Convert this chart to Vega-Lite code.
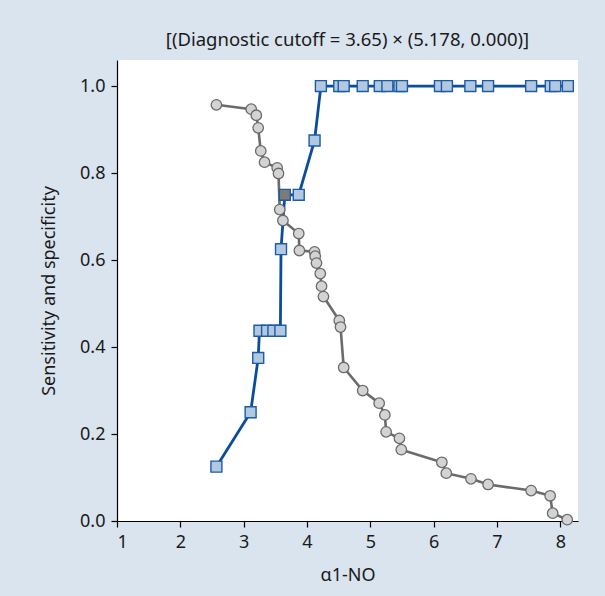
{
  "$schema": "https://vega.github.io/schema/vega-lite/v6.json",
  "width": 461,
  "height": 461,
  "autosize": {"type": "none"},
  "padding": {"left": 117, "top": 60, "right": 27, "bottom": 75},
  "background": "#dae4ee",
  "title": {
    "text": "[(Diagnostic cutoff = 3.65) × (5.178, 0.000)]",
    "font": "Noto Sans",
    "fontSize": 18.5,
    "fontWeight": "normal",
    "color": "#1a1a1a",
    "offset": 11,
    "anchor": "middle"
  },
  "config": {
    "view": {"stroke": null, "fill": "white"},
    "axis": {
      "labelFont": "Noto Sans",
      "titleFont": "Noto Sans",
      "labelFontSize": 18,
      "titleFontSize": 18,
      "labelColor": "#1a1a1a",
      "titleColor": "#1a1a1a",
      "titleFontWeight": "normal",
      "domainColor": "#000",
      "tickColor": "#000",
      "domainWidth": 1.2,
      "tickWidth": 1.2,
      "tickSize": 6,
      "grid": false
    }
  },
  "datasets": {
    "spec": [
      {"x": 2.57, "y": 0.125, "hl": 0},
      {"x": 3.11, "y": 0.25, "hl": 0},
      {"x": 3.23, "y": 0.375, "hl": 0},
      {"x": 3.25, "y": 0.4375, "hl": 0},
      {"x": 3.37, "y": 0.4375, "hl": 0},
      {"x": 3.47, "y": 0.4375, "hl": 0},
      {"x": 3.58, "y": 0.4375, "hl": 0},
      {"x": 3.59, "y": 0.625, "hl": 0},
      {"x": 3.65, "y": 0.75, "hl": 1},
      {"x": 3.87, "y": 0.75, "hl": 0},
      {"x": 4.12, "y": 0.875, "hl": 0},
      {"x": 4.22, "y": 1, "hl": 0},
      {"x": 4.51, "y": 1, "hl": 0},
      {"x": 4.58, "y": 1, "hl": 0},
      {"x": 4.88, "y": 1, "hl": 0},
      {"x": 5.15, "y": 1, "hl": 0},
      {"x": 5.27, "y": 1, "hl": 0},
      {"x": 5.46, "y": 1, "hl": 0},
      {"x": 5.5, "y": 1, "hl": 0},
      {"x": 6.1, "y": 1, "hl": 0},
      {"x": 6.21, "y": 1, "hl": 0},
      {"x": 6.58, "y": 1, "hl": 0},
      {"x": 6.86, "y": 1, "hl": 0},
      {"x": 7.54, "y": 1, "hl": 0},
      {"x": 7.85, "y": 1, "hl": 0},
      {"x": 7.92, "y": 1, "hl": 0},
      {"x": 8.12, "y": 1, "hl": 0}
    ],
    "sens": [
      {"x": 2.57, "y": 0.957},
      {"x": 3.12, "y": 0.947},
      {"x": 3.2, "y": 0.933},
      {"x": 3.23, "y": 0.904},
      {"x": 3.27, "y": 0.851},
      {"x": 3.33, "y": 0.825},
      {"x": 3.53, "y": 0.812},
      {"x": 3.55, "y": 0.799},
      {"x": 3.57, "y": 0.716},
      {"x": 3.62, "y": 0.691},
      {"x": 3.87, "y": 0.661},
      {"x": 3.88, "y": 0.622},
      {"x": 4.12, "y": 0.619},
      {"x": 4.13, "y": 0.609},
      {"x": 4.15, "y": 0.593},
      {"x": 4.21, "y": 0.569},
      {"x": 4.23, "y": 0.54},
      {"x": 4.26, "y": 0.516},
      {"x": 4.51, "y": 0.461},
      {"x": 4.53, "y": 0.446},
      {"x": 4.58, "y": 0.353},
      {"x": 4.88, "y": 0.3},
      {"x": 5.14, "y": 0.271},
      {"x": 5.23, "y": 0.244},
      {"x": 5.25, "y": 0.205},
      {"x": 5.46, "y": 0.19},
      {"x": 5.49, "y": 0.164},
      {"x": 6.13, "y": 0.135},
      {"x": 6.2, "y": 0.11},
      {"x": 6.59, "y": 0.097},
      {"x": 6.86, "y": 0.084},
      {"x": 7.54, "y": 0.07},
      {"x": 7.84, "y": 0.058},
      {"x": 7.88, "y": 0.018},
      {"x": 8.11, "y": 0.003}
    ]
  },
  "encoding": {
    "x": {
      "field": "x",
      "type": "quantitative",
      "scale": {"domain": [1, 8.28], "nice": false, "zero": false},
      "axis": {"title": "α1-NO", "values": [1, 2, 3, 4, 5, 6, 7, 8], "format": "d", "labelPadding": 6, "titlePadding": 15}
    },
    "y": {
      "field": "y",
      "type": "quantitative",
      "scale": {"domain": [0, 1.06], "nice": false},
      "axis": {"title": "Sensitivity and specificity", "values": [0, 0.2, 0.4, 0.6, 0.8, 1.0], "format": ".1f", "labelPadding": 6, "titlePadding": 21}
    }
  },
  "layer": [
    {
      "data": {"name": "spec"},
      "mark": {"type": "line", "color": "#0b4d9a", "strokeWidth": 2.8}
    },
    {
      "data": {"name": "sens"},
      "mark": {"type": "line", "color": "#6b6b6b", "strokeWidth": 2.6}
    },
    {
      "data": {"name": "sens"},
      "mark": {"type": "point", "shape": "circle", "filled": true, "size": 110, "fill": "#d3d3d3", "stroke": "#6b6b6b", "strokeWidth": 1.3, "opacity": 1}
    },
    {
      "data": {"name": "spec"},
      "transform": [{"filter": "datum.hl == 0"}],
      "mark": {"type": "point", "shape": "square", "filled": true, "size": 120, "fill": "#b2c8e0", "stroke": "#1b5ca4", "strokeWidth": 1.4, "opacity": 1}
    },
    {
      "data": {"name": "spec"},
      "transform": [{"filter": "datum.hl == 1"}],
      "mark": {"type": "point", "shape": "square", "filled": true, "size": 120, "fill": "#7b7b7b", "stroke": "#1b5ca4", "strokeWidth": 1.4, "opacity": 1}
    }
  ]
}
